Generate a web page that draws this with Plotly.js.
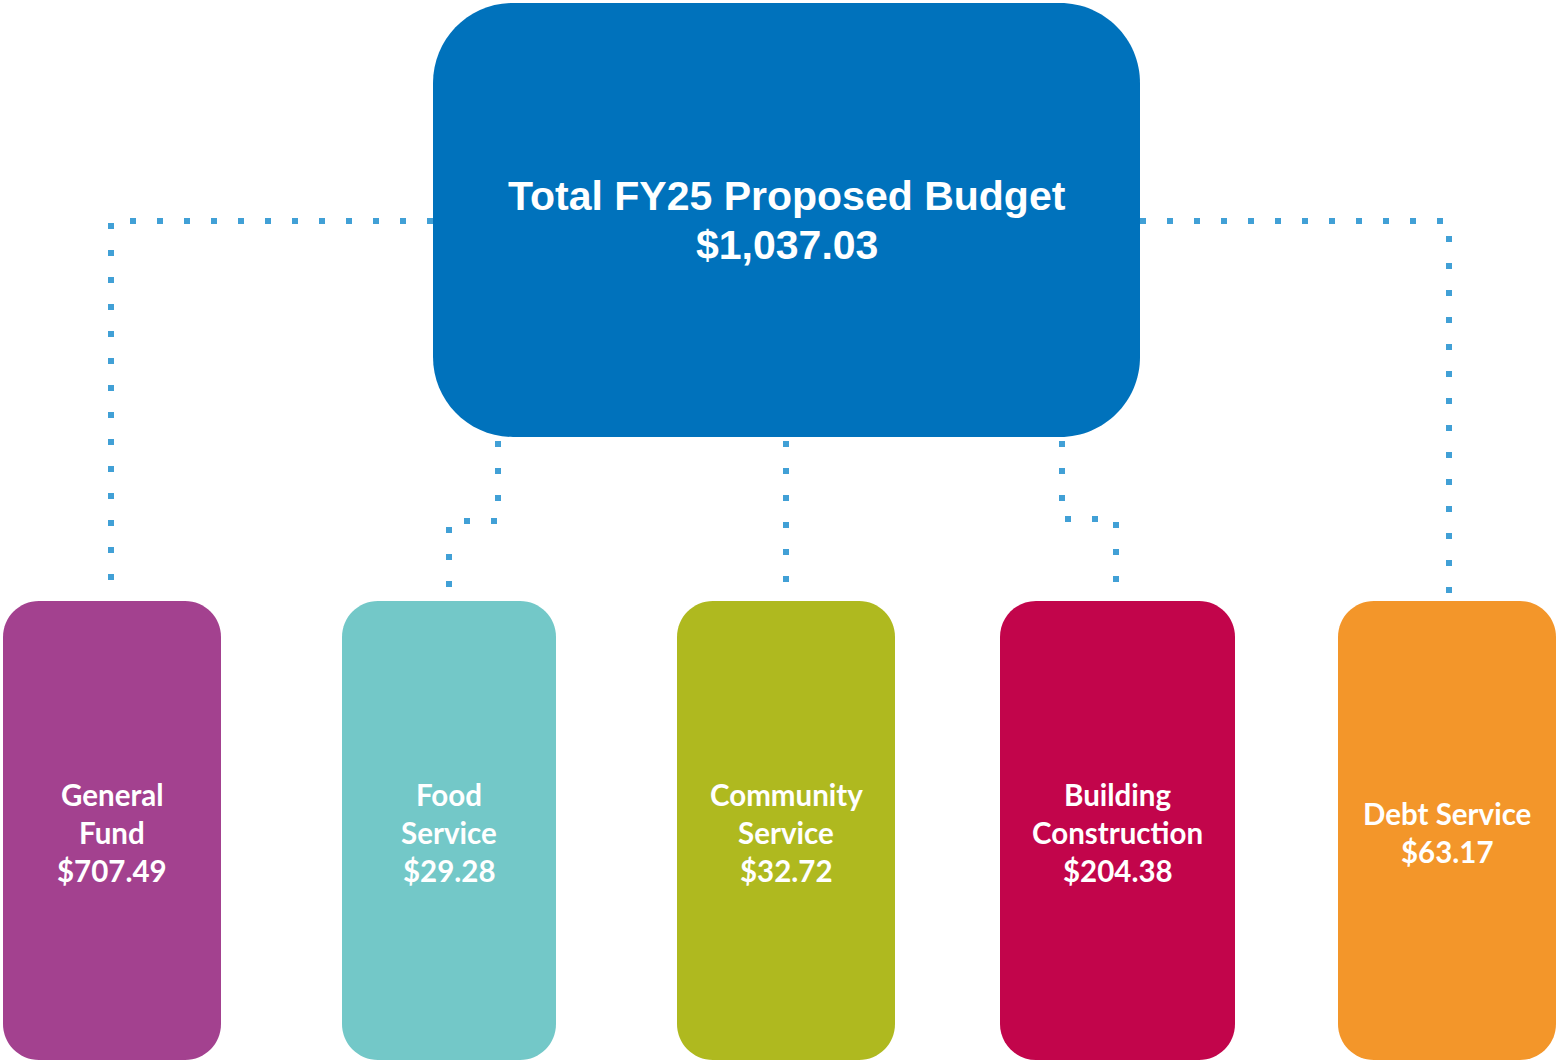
<!DOCTYPE html>
<html>
<head>
<meta charset="utf-8">
<script src="https://cdn.plot.ly/plotly-3.0.1.min.js"></script>
<style>html,body{margin:0;padding:0;background:#fff;}#chart{width:1557px;height:1063px;}</style>
</head>
<body>
<div id="chart"></div>
<script>
// ---- data ----
const totalLabel = "Total FY25 Proposed Budget";
const totalValue = "$1,037.03";
const fundNames = [["General", "Fund"], ["Food", "Service"], ["Community", "Service"], ["Building", "Construction"], ["Debt Service"]];
const fundValues = ["$707.49", "$29.28", "$32.72", "$204.38", "$63.17"];
const fundColors = ["#A3418F", "#73C8C8", "#AFB91F", "#C2054B", "#F3962A"];

// ---- layout geometry ----
const W = 1557, H = 1063;
const topBox = {x0: 433, y0: 3, x1: 1140, y1: 437, r: 80, color: "#0072BC"};
const boxX = [[3, 221], [342, 556], [677, 895], [1000, 1235], [1338, 1556]];
const boxY = [601, 1060];
const boxR = 36;
const dotColor = "#41A0D6";

function rr(x0, y0, x1, y1, r) {
  const k = 0.5523 * r;
  return `M${x0 + r},${y0} L${x1 - r},${y0} C${x1 - r + k},${y0} ${x1},${y0 + r - k} ${x1},${y0 + r} ` +
    `L${x1},${y1 - r} C${x1},${y1 - r + k} ${x1 - r + k},${y1} ${x1 - r},${y1} ` +
    `L${x0 + r},${y1} C${x0 + r - k},${y1} ${x0},${y1 - r + k} ${x0},${y1 - r} ` +
    `L${x0},${y0 + r} C${x0},${y0 + r - k} ${x0 + r - k},${y0} ${x0 + r},${y0} Z`;
}

const connectors = [
  [[433, 221], [111, 221], [111, 598]],
  [[498, 441], [498, 521], [449, 521], [449, 598]],
  [[786, 441], [786, 585]],
  [[1062, 441], [1062, 519], [1116, 519], [1116, 588]],
  [[1140, 221], [1449, 221], [1449, 603]]
];

const shapes = [];
connectors.forEach(pts => {
  const d = pts.map((p, i) => (i === 0 ? "M" : "L") + p[0] + "," + p[1]).join(" ");
  shapes.push({type: "path", path: d, xref: "x", yref: "y",
    line: {color: dotColor, width: 6, dash: "6px,21px"}});
});
shapes.push({type: "path", path: rr(topBox.x0, topBox.y0, topBox.x1, topBox.y1, topBox.r), xref: "x", yref: "y",
  fillcolor: topBox.color, line: {width: 0}});
boxX.forEach((bx, i) => {
  shapes.push({type: "path", path: rr(bx[0], boxY[0], bx[1], boxY[1], boxR), xref: "x", yref: "y",
    fillcolor: fundColors[i], line: {width: 0}});
});

const annotations = [];
const titleFont = {family: "Liberation Sans, Arial, sans-serif", size: 41, color: "#ffffff", weight: 700};
annotations.push({x: (topBox.x0 + topBox.x1) / 2, y: 196, xref: "x", yref: "y", text: "<b>" + totalLabel + "</b>",
  showarrow: false, font: titleFont, xanchor: "center", yanchor: "middle"});
annotations.push({x: (topBox.x0 + topBox.x1) / 2, y: 245, xref: "x", yref: "y", text: "<b>" + totalValue + "</b>",
  showarrow: false, font: titleFont, xanchor: "center", yanchor: "middle"});

const lineGap = 38, centerY = 832;
const boxFont = {family: "Lato, Open Sans, sans-serif", size: 29.5, color: "#ffffff", weight: 700};
boxX.forEach((bx, i) => {
  const lines = fundNames[i].concat([fundValues[i]]);
  const cx = (bx[0] + bx[1]) / 2;
  const y0 = centerY - (lines.length - 1) * lineGap / 2;
  lines.forEach((t, j) => {
    annotations.push({x: cx, y: y0 + j * lineGap, xref: "x", yref: "y", text: "<b>" + t + "</b>",
      showarrow: false, font: boxFont, xanchor: "center", yanchor: "middle"});
  });
});

const layout = {
  width: W, height: H,
  margin: {l: 0, r: 0, t: 0, b: 0, pad: 0},
  paper_bgcolor: "#ffffff", plot_bgcolor: "#ffffff",
  xaxis: {range: [0, W], visible: false, fixedrange: true},
  yaxis: {range: [H, 0], visible: false, fixedrange: true},
  showlegend: false,
  shapes: shapes,
  annotations: annotations
};

Plotly.newPlot("chart", [{x: [], y: [], type: "scatter", mode: "markers"}], layout, {displayModeBar: false, staticPlot: true});
</script>
</body>
</html>
